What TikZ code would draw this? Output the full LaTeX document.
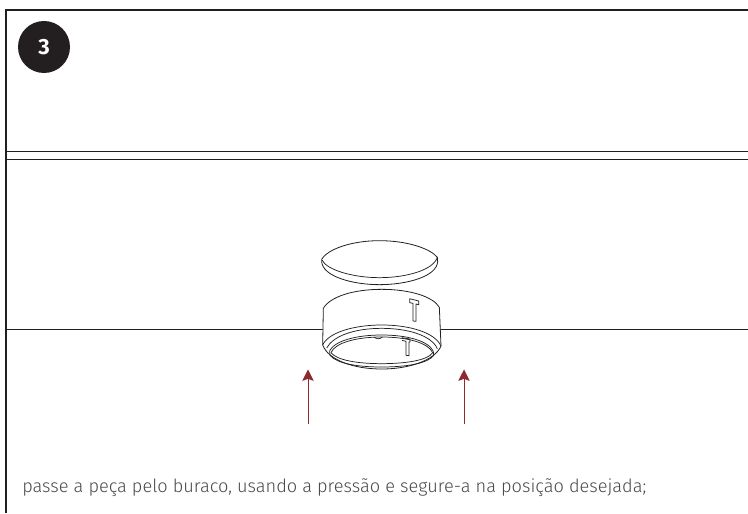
\documentclass[tikz,border=0pt]{standalone}
\usepackage{fontspec}
\setmainfont{Fira Sans}
\newfontfamily\captfont{Fira Sans Light}
\usetikzlibrary{arrows.meta}
\definecolor{ink}{HTML}{231F20}
\definecolor{arrowred}{HTML}{8E2A2E}
\definecolor{capt}{HTML}{4A4A4C}
\tikzset{
  frameline/.style={draw=ink,line width=1.5pt},
  thinrule/.style={draw=ink,line width=0.7pt},
  part/.style={draw=ink,line width=0.6pt,fill=white,line join=round},
  partline/.style={draw=ink,line width=0.55pt,line join=round},
  liftarrow/.style={draw=arrowred,fill=arrowred,line width=0.65pt,-{Stealth[length=8.5pt,width=8.5pt,inset=1.5pt]}},
  badge/.style={circle,fill=ink,minimum size=39pt,inner sep=0pt,text=white,font=\bfseries\fontsize{16.5}{16.5}\selectfont},
  caption/.style={anchor=base west,inner sep=0pt,text=capt,font=\captfont\fontsize{13.64}{15}\selectfont}
}
\begin{document}
\begin{tikzpicture}[x=0.75pt,y=-0.75pt]
\useasboundingbox (0,0) rectangle (748,513);
\fill[white] (0,0) rectangle (748,513);
\draw[frameline] (748,10.5) -- (6,10.5) -- (6,513);
\draw[thinrule] (6,151) -- (748,151);
\draw[thinrule,line width=0.9pt] (6,159.5) -- (748,159.5);
\draw[thinrule] (6,329) -- (748,329);
\node[badge] (num) at (44,47) {3};
\node[caption] (cap) at (22,492) {passe a peça pelo buraco, usando a pressão e segure-a na posição desejada;};
\begin{scope}[shift={(300,220)},x=0.25pt,y=-0.25pt]
  % lid
  \draw[part] (65,125) .. controls (68,170) and (160,194) .. (238,194) .. controls (320,194) and (410,170) .. (413,125) -- (412,112) .. controls (390,85) and (320,62) .. (238,62) .. controls (160,62) and (85,85) .. (65,118) -- cycle;
  \draw[partline] (66,120) .. controls (80,150) and (160,173) .. (238,173) .. controls (320,173) and (400,150) .. (412,112);
  % body
  \draw[part] (70,265) .. controls (90,230) and (160,208) .. (245,208) .. controls (330,208) and (400,230) .. (418,262) -- (423,378) .. controls (405,420) and (330,447) .. (245,447) .. controls (160,447) and (85,420) .. (68,375) -- cycle;
  % collar arcs
  \draw[partline] (68,375) .. controls (85,338) and (160,315) .. (245,315) .. controls (330,315) and (405,338) .. (423,378);
  \draw[partline] (80,384) .. controls (100,347) and (165,325) .. (245,325) .. controls (325,325) and (395,347) .. (412,386);
  \draw[partline] (89,392) .. controls (105,362) and (170,345) .. (245,345) .. controls (320,345) and (385,362) .. (400,394);
  \draw[partline] (89,392) -- (90,406) .. controls (110,430) and (170,441) .. (245,441) .. controls (320,441) and (385,430) .. (401,406) -- (400,394);
  \draw[partline] (93,398) .. controls (110,420) and (170,431) .. (245,431) .. controls (320,431) and (385,420) .. (398,398);
  \draw[partline] (93,398) .. controls (105,368) and (170,351) .. (245,351) .. controls (320,351) and (385,368) .. (398,398);
  % T slots
  \draw[partline] (329,236) -- (356,243) -- (356,254) -- (348,252) -- (348,304) -- (339,303) -- (339,250) -- (329,248) -- cycle;
  \draw[partline] (306,353) -- (330,357) -- (330,366) -- (327,366) -- (327,407) -- (318,406) -- (318,364) -- (306,361);
  \draw[partline] (223,351) .. controls (228,358) and (240,358) .. (247,351);
\end{scope}
\coordinate (a1s) at (308,424);
\coordinate (a1e) at (308,369.5);
\coordinate (a2s) at (464,424);
\coordinate (a2e) at (464,369.5);
\draw[liftarrow] (a1s) -- (a1e);
\draw[liftarrow] (a2s) -- (a2e);
\end{tikzpicture}
\end{document}
